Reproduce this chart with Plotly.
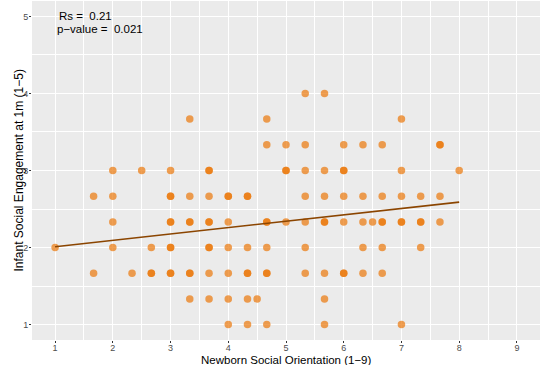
import numpy as np
import plotly.graph_objects as go

# Points, grouped by y level (duplicates = overlapping darker points)
x_at_4_00 = [5.333, 5.667]
x_at_3_67 = [3.333, 4.667, 7.0]
x_at_3_33 = [4.667, 5.0, 5.333, 6.0, 6.333, 6.667, 7.667, 7.667]
x_at_3_00 = [2.0, 2.5, 3.0, 3.667, 3.667, 5.0, 5.0, 5.333, 5.667, 6.0, 6.0, 7.0, 8.0]
x_at_2_67 = [1.667, 2.0, 3.0, 3.0, 3.333, 3.667, 4.0, 4.0, 4.333, 4.333, 5.333, 5.667,
             6.0, 6.333, 6.667, 7.0, 7.333, 7.667]
x_at_2_33 = [2.0, 3.0, 3.0, 3.333, 3.333, 3.667, 3.667, 4.0, 4.667, 4.667, 5.0, 5.333,
             5.667, 5.667, 6.0, 6.333, 6.5, 6.667, 6.667, 7.0, 7.0, 7.333, 7.333, 7.667]
x_at_2_00 = [1.0, 2.0, 2.667, 3.0, 3.0, 3.667, 3.667, 4.0, 4.333, 4.667, 5.333, 6.333,
             6.667, 7.333]
x_at_1_67 = [1.667, 2.333, 2.667, 2.667, 3.0, 3.0, 3.333, 3.333, 3.667, 4.0, 4.333, 4.333,
             4.667, 4.667, 5.333, 5.667, 6.0, 6.0, 6.333, 6.667]
x_at_1_33 = [3.333, 3.667, 4.0, 4.333, 4.5, 5.667]
x_at_1_00 = [4.0, 4.333, 4.667, 5.667, 7.0]

y_levels = [4.0, 3.667, 3.333, 3.0, 2.667, 2.333, 2.0, 1.667, 1.333, 1.0]
x_rows = [x_at_4_00, x_at_3_67, x_at_3_33, x_at_3_00, x_at_2_67, x_at_2_33,
          x_at_2_00, x_at_1_67, x_at_1_33, x_at_1_00]

# Fitted line
fit_x = [1.0, 8.0]
fit_y = [2.01, 2.59]

rs_text = "Rs =\u00a0\u00a00.21"
p_text = "p\u2212value =\u00a0\u00a00.021"
x_title = "Newborn Social Orientation (1\u22129)"
y_title = "Infant Social Engagement at 1m (1\u22125)"

x_ticks = [1, 2, 3, 4, 5, 6, 7, 8, 9]
y_ticks = [1, 2, 3, 4, 5]

xs, ys = [], []
for yv, row in zip(y_levels, x_rows):
    xs += row
    ys += [yv] * len(row)

fig = go.Figure()
fig.add_trace(go.Scatter(
    x=xs, y=ys, mode="markers",
    marker=dict(size=7.5, color="rgb(235,120,10)", opacity=0.7, line=dict(width=0)),
    hoverinfo="skip", showlegend=False))
fig.add_trace(go.Scatter(
    x=fit_x, y=fit_y, mode="lines",
    line=dict(color="#8B4500", width=1.6),
    hoverinfo="skip", showlegend=False))

fig.add_annotation(x=1.04, y=5.0, xref="x", yref="y", text=rs_text, showarrow=False,
                   xanchor="left", yanchor="middle",
                   font=dict(family="Liberation Sans", size=11.5, color="black"))
fig.add_annotation(x=1.0, y=4.84, xref="x", yref="y", text=p_text, showarrow=False,
                   xanchor="left", yanchor="middle",
                   font=dict(family="Liberation Sans", size=11.5, color="black"))

# axis titles placed as annotations (panel: x 32..540, y 1..340 px)
fig.add_annotation(x=0.5, y=-19.5 / 339, xref="paper", yref="paper", text=x_title,
                   showarrow=False, xanchor="center", yanchor="middle",
                   font=dict(family="Liberation Sans", size=11.5, color="black"))
fig.add_annotation(x=-14 / 508, y=0.5, xref="paper", yref="paper", text=y_title,
                   showarrow=False, xanchor="center", yanchor="middle", textangle=-90,
                   font=dict(family="Liberation Sans", size=12, color="black"))

axis_common = dict(
    showgrid=True, gridcolor="white", gridwidth=1.1,
    zeroline=False, showline=False, automargin=False,
    ticks="outside", ticklen=2, tickcolor="#333333", tickwidth=1,
    tickfont=dict(family="Liberation Sans", size=9, color="#4D4D4D"),
)

fig.update_layout(
    width=541, height=365,
    margin=dict(l=32, r=1, t=1, b=25),
    paper_bgcolor="white", plot_bgcolor="#EBEBEB",
    font=dict(family="Liberation Sans"),
    xaxis=dict(range=[0.6, 9.4], tickvals=x_ticks, ticklabelstandoff=-3,
               minor=dict(tickvals=[1.5, 2.5, 3.5, 4.5, 5.5, 6.5, 7.5, 8.5],
                          showgrid=True, gridcolor="white", gridwidth=0.55),
               **axis_common),
    yaxis=dict(range=[0.8, 5.2], tickvals=y_ticks, ticklabelstandoff=-1,
               minor=dict(tickvals=[1.5, 2.5, 3.5, 4.5],
                          showgrid=True, gridcolor="white", gridwidth=0.55),
               **axis_common),
)

fig.write_html(
    "out.html",
    config={"displayModeBar": False},
    post_script="document.body.style.margin='0';document.body.style.overflow='hidden';",
)
